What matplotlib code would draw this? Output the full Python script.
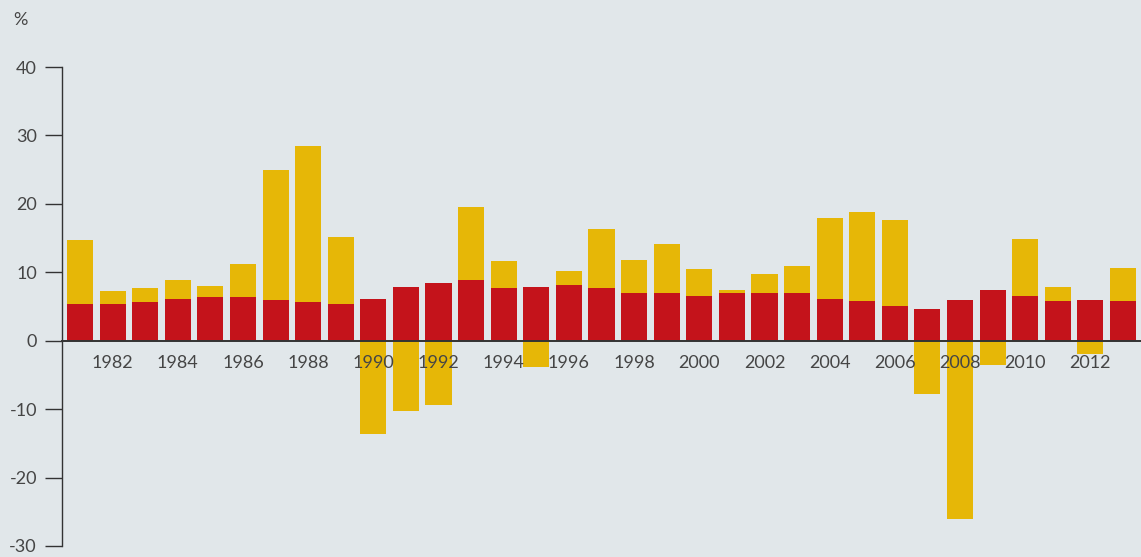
import matplotlib.pyplot as plt

# data
years = list(range(1981, 2014))
total_return = [14.7, 7.3, 7.7, 8.9, 8.0, 11.2, 24.9, 28.4, 15.1, -13.6,
                -10.2, -9.4, 19.5, 11.6, -3.9, 10.2, 16.3, 11.8, 14.1, 10.5,
                7.4, 9.7, 10.9, 17.9, 18.8, 17.6, -7.8, -26.1, -3.5, 14.8,
                7.8, -1.9, 10.6]
income_return = [5.3, 5.3, 5.7, 6.1, 6.4, 6.4, 6.0, 5.7, 5.3, 6.1,
                 7.8, 8.5, 8.8, 7.7, 7.8, 8.1, 7.7, 7.0, 7.0, 6.5,
                 7.0, 7.0, 7.0, 6.1, 5.8, 5.1, 4.7, 5.9, 7.4, 6.5,
                 5.8, 5.9, 5.8]
label_years = list(range(1982, 2013, 2))
y_ticks = [-30, -20, -10, 0, 10, 20, 30, 40]

bg = '#E1E7EA'
yellow = '#E6B707'
red = '#C4131B'
text_col = '#454545'

plt.rcParams['font.family'] = ['Lato', 'DejaVu Sans']
plt.rcParams['axes.unicode_minus'] = False

fig = plt.figure(figsize=(11.41, 5.57), dpi=100, facecolor=bg)
ax = fig.add_axes([62 / 1141, 11 / 557, 1 - 62 / 1141, (546 - 67) / 557])
ax.set_facecolor(bg)

ax.bar(years, total_return, width=0.8, color=yellow, zorder=1)
ax.bar(years, income_return, width=0.8, color=red, zorder=1.5)

ax.set_xlim(1980.448, 2013.552)
ax.set_ylim(-30, 40)

# axes styling
for s in ['top', 'right']:
    ax.spines[s].set_visible(False)
ax.spines['bottom'].set_position(('data', 0))
ax.spines['bottom'].set_color('#333333')
ax.spines['bottom'].set_linewidth(1.4)
ax.spines['left'].set_color('#333333')
ax.spines['left'].set_linewidth(1.0)

ax.set_xticks(label_years)
ax.set_xticklabels([str(y) for y in label_years])
ax.tick_params(axis='x', length=0, pad=10, labelsize=13, labelcolor=text_col)
ax.set_yticks(y_ticks)
ax.tick_params(axis='y', length=12, width=1.0, color='#333333', pad=6,
               labelsize=13, labelcolor=text_col)

fig.text(20 / 1141, 1 - 20 / 557, '%', ha='center', va='center',
         fontsize=13, color=text_col)

fig.savefig('out.png', dpi=100, facecolor=bg)
